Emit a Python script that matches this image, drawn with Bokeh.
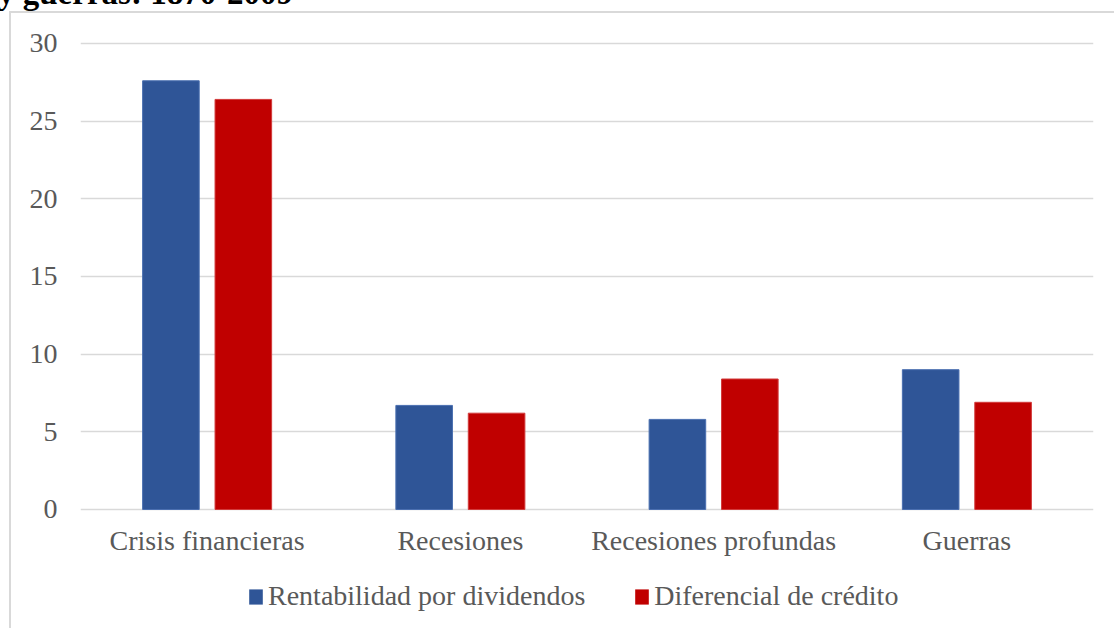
from bokeh.plotting import figure
from bokeh.models import (ColumnDataSource, FactorRange, Range1d, Legend, LegendItem,
                          FixedTicker, Div)
from bokeh.layouts import column
from bokeh.transform import dodge
from bokeh.embed import file_html
from bokeh.resources import INLINE

categories = ["Crisis financieras", "Recesiones", "Recesiones profundas", "Guerras"]
rentabilidad = [27.6, 6.7, 5.8, 9.0]
diferencial = [26.4, 6.2, 8.4, 6.9]
y_ticks = [0, 5, 10, 15, 20, 25, 30]
series_names = ["Rentabilidad por dividendos", "Diferencial de crédito"]
title_text = "y guerras: 1870-2009"

BLUE = "#2F5597"
RED = "#C00000"
FONT = "Liberation Serif"
TXT = "#595959"
GRID = "#d9d9d9"

src = ColumnDataSource(dict(cat=categories, a=rentabilidad, b=diferencial))

# ---- main chart ----
p = figure(width=1114, height=560, output_backend="svg", toolbar_location=None,
           x_range=FactorRange(*categories, range_padding=0),
           y_range=Range1d(-0.13, 30.193),
           min_border_left=80, min_border_right=21, min_border_top=40, min_border_bottom=49)
p.outline_line_color = None
p.background_fill_color = None
p.border_fill_color = None
p.margin = 0

p.vbar(x=dodge("cat", -0.143, range=p.x_range), top="a", width=0.2235, source=src,
       fill_color=BLUE, line_color="#4a6fb0", line_width=1)
p.vbar(x=dodge("cat", 0.143, range=p.x_range), top="b", width=0.2235, source=src,
       fill_color=RED, line_color="#d23a3a", line_width=1)

p.xgrid.grid_line_color = None
p.ygrid.grid_line_color = GRID
p.ygrid.grid_line_width = 1.5
p.yaxis.ticker = FixedTicker(ticks=y_ticks)

for ax in (p.xaxis[0], p.yaxis[0]):
    ax.axis_line_color = None
    ax.major_tick_line_color = None
    ax.minor_tick_line_color = None
    ax.major_tick_out = 0
    ax.major_tick_in = 0
    ax.major_label_text_font = FONT
    ax.major_label_text_font_size = "28px"
    ax.major_label_text_color = TXT
p.yaxis.major_label_standoff = 23
p.xaxis.major_label_standoff = 13

# ---- legend strip (series glyphs drawn far off-range; only the legend shows) ----
lf = figure(width=1114, height=68, output_backend="svg", toolbar_location=None,
            x_axis_type=None, y_axis_type=None, min_border=0,
            x_range=FactorRange(*categories), y_range=Range1d(100, 101))
lf.outline_line_color = None
lf.background_fill_color = None
lf.border_fill_color = None
lf.margin = 0
for g in lf.grid:
    g.visible = False

k1 = lf.vbar(x="cat", top="a", width=0.2, source=src, fill_color=BLUE, line_color=None)
k2 = lf.vbar(x="cat", top="b", width=0.2, source=src, fill_color=RED, line_color=None)

legend = Legend(items=[LegendItem(label=series_names[0], renderers=[k1]),
                       LegendItem(label=series_names[1], renderers=[k2])],
                orientation="horizontal", location=(167, 16),
                glyph_width=17, glyph_height=19, label_standoff=4, spacing=48,
                label_text_font=FONT, label_text_font_size="28px", label_text_color=TXT,
                border_line_color=None, background_fill_alpha=0, padding=0, margin=0)
lf.add_layout(legend, "center")

# ---- title (cut by the page top) and chart-area border ----
overlay_html = (
    '<div style="position:absolute;left:0;top:0;width:1114px;height:628px;overflow:hidden;pointer-events:none">'
    '<div style="position:absolute;left:-2px;top:-23px;font-family:\'Liberation Serif\';font-size:33px;'
    'font-weight:bold;line-height:33px;white-space:nowrap;color:#000">' + title_text + '</div>'
    '<div style="position:absolute;left:9px;top:11px;width:1300px;height:800px;'
    'border-left:2px solid ' + GRID + ';border-top:2px solid ' + GRID + '"></div>'
    '</div>'
)
title_div = Div(text=overlay_html, width=1114, height=0, margin=0,
                styles={"position": "relative", "z-index": "2", "overflow": "visible"})

layout = column(title_div, p, lf, spacing=0)

open("out.html", "w").write(file_html(layout, INLINE))
